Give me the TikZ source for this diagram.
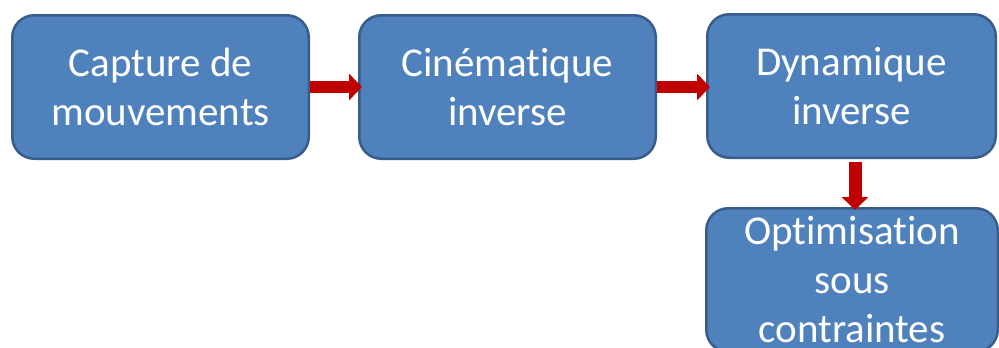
\documentclass[tikz,border=0pt]{standalone}
\usepackage{fontspec}
\setmainfont{Carlito}[Ligatures=NoCommon]
\usetikzlibrary{arrows.meta}
\definecolor{boxfill}{RGB}{79,129,189}
\definecolor{boxline}{RGB}{56,93,138}
\definecolor{arrowred}{RGB}{192,0,0}
\tikzset{
  etape/.style={
    draw=boxline,
    fill=boxfill,
    line width=2.5pt,
    rounded corners=22pt,
    text=white,
    align=center,
    inner sep=0pt,
    minimum height=143.5pt,
    font=\fontsize{41}{49}\selectfont
  },
  fleche/.style={
    draw=arrowred,
    line width=12pt,
    -{Triangle[length=13pt,width=26pt]}
  }
}
\begin{document}
\begin{tikzpicture}[x=1pt,y=-1pt]
  \useasboundingbox (0,0) rectangle (999,348);

  \node[etape, minimum width=296.5pt] (capture) at (160.5,87) {Capture de\\mouvements};
  \node[etape, minimum width=296.5pt] (cinematique) at (507.5,87) {Cinématique\\inverse};
  \node[etape, minimum width=288.5pt] (dynamique) at (851.5,86) {Dynamique\\inverse};
  \node[etape, minimum width=291.5pt] (optim) at (852,280) {Optimisation\\sous\\contraintes};

  \draw[fleche, shorten >=-4pt] (capture.east) -- (cinematique.west);
  \draw[fleche, shorten >=-4pt] (cinematique.east) -- (dynamique.west |- cinematique.east);
  \draw[fleche, line width=13pt, shorten <=3pt, shorten >=-3pt]
    ([xshift=3.5pt]dynamique.south) -- ([xshift=3.5pt]dynamique.south |- optim.north);
\end{tikzpicture}
\end{document}
